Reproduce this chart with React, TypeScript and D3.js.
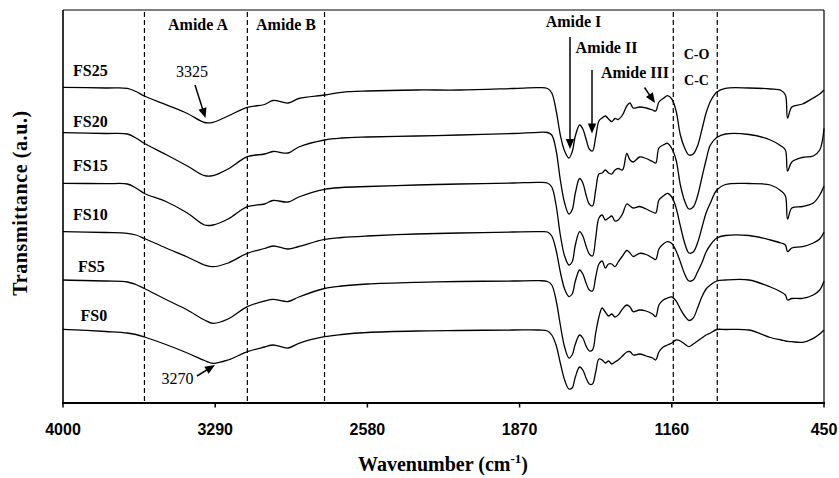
import React from "react";
import * as d3 from "d3";

// Wavenumber grid (cm^-1) shared by all spectra
const WAVENUMBERS = [4000, 3800, 3700, 3660, 3620, 3520, 3420, 3340, 3300, 3230,
  3140, 3060, 3020, 2950, 2900, 2780, 2700, 2580, 2350, 2150,
  1900, 1780, 1740, 1720, 1700, 1680, 1660, 1640, 1625, 1610,
  1590, 1575, 1560, 1545, 1530, 1515, 1500, 1485, 1470, 1455,
  1440, 1425, 1410, 1390, 1370, 1355, 1340, 1310, 1280, 1250,
  1235, 1220, 1200, 1180, 1160, 1140, 1120, 1100, 1080, 1060,
  1040, 1020, 1000, 980, 950, 910, 800, 700, 650, 630,
  620, 600, 550, 500, 470, 450];

// Stacked transmittance (a.u., offset) for each sample
const FS25 = [315.7, 315, 314.7, 311.5, 307, 298.3, 289.5, 280.5, 280.7, 287,
  295.7, 298.5, 302.5, 300, 304.5, 308, 310.7, 312, 313, 313,
  314.5, 315.3, 314.5, 310, 293, 268, 252, 245, 251, 267,
  278, 274, 264, 254, 252, 266, 282, 285, 287, 284,
  281.3, 284.5, 283.5, 288, 297, 300, 295, 296, 295, 293,
  292, 301, 304.5, 307.3, 304, 292, 268, 255, 248, 249,
  257, 273, 290, 301.5, 311, 314.7, 315, 314, 312.5, 308,
  285, 296, 299, 305, 309, 313];
const FS20 = [270.3, 269.5, 269, 265, 259.5, 248.5, 237, 227.3, 227.3, 234,
  246.3, 249, 251.5, 250, 256, 263, 265, 266, 267, 268,
  269.5, 270.7, 270.5, 268, 253, 223, 200, 189, 193, 210,
  224.5, 220, 208, 199, 197, 213, 229, 230, 233, 230,
  229, 233, 234.5, 233, 249.5, 243, 241, 246, 244.5, 241.5,
  240, 255, 258, 259.7, 254.5, 243, 218, 202, 194, 196,
  207, 225, 243, 258, 265.5, 269, 268.5, 263, 257, 253,
  232, 241, 245.5, 247, 253, 274.5];
const FS15 = [219.7, 219.3, 219, 215, 209.5, 201.5, 190, 178, 178, 184,
  196.3, 199, 202.5, 201, 206, 213.7, 215.5, 216.5, 218, 219,
  220, 220.7, 220, 216, 198, 168, 147, 138, 141, 158,
  171.3, 167, 157, 149, 147, 165, 185, 188, 183, 185,
  187, 182, 183, 189, 199, 197, 195, 196.5, 194, 191,
  190, 203, 207, 209.7, 206, 195, 177, 160, 150, 151,
  160, 175, 190, 200, 213, 218.5, 219.5, 218, 212, 207,
  184, 195, 196.5, 200, 208, 217];
const FS10 = [171.3, 170.5, 169.7, 168, 164.5, 155, 146, 138, 136.3, 140,
  149.7, 154.5, 157, 154, 156.5, 163.7, 165.5, 167, 169, 170,
  171, 171.3, 171, 167, 153, 131, 114, 106.5, 109, 122,
  133, 129, 120, 113, 112, 126, 139, 142, 135, 139,
  139, 136.3, 141, 147, 152.5, 150, 146.5, 149.7, 148.5, 145,
  143.5, 154, 159, 161.3, 159.5, 152, 141, 129, 122, 123,
  131, 140, 151, 158, 165, 167.5, 167.5, 163, 160, 158,
  151.3, 155, 156.3, 160, 164, 171];
const FS5 = [123, 122, 121, 118.5, 114.5, 103.5, 93, 83, 79.7, 84,
  96.3, 102, 103.7, 101.5, 106, 114.5, 117, 119, 120.7, 121.5,
  122, 122.3, 121.5, 118, 103, 78, 56, 45, 48, 59,
  68, 65, 57, 52, 53, 70, 86, 95, 91, 87,
  89, 86, 88, 94, 98, 96, 91.3, 93, 92, 89,
  86.3, 98, 103, 105, 106, 102, 94, 87, 82.5, 85,
  95, 106, 114, 118, 122, 123, 123, 116, 111, 108,
  103, 104.5, 104.7, 108, 113, 122];
const FS0 = [73.7, 71.5, 70, 68.5, 66, 58.5, 50, 42.5, 39.7, 43,
  51.3, 56, 58, 55, 59.7, 66.3, 68.5, 70.5, 72, 72.5,
  73, 73, 72, 68, 58, 40, 23, 14, 15, 26,
  36, 33, 25, 19, 19, 31, 44, 43, 40, 42,
  39, 41, 43, 47, 51, 51.3, 48, 49, 47, 45,
  43, 51, 56, 58, 60, 63, 62, 59, 56.3, 59,
  62, 65, 68, 70, 73.5, 73.5, 73, 65.5, 63, 62,
  61.7, 61.3, 60.7, 64.7, 69, 73];

const SERIES_NAMES = ["FS25", "FS20", "FS15", "FS10", "FS5", "FS0"];
const SERIES_VALUES = [FS25, FS20, FS15, FS10, FS5, FS0];

const X_TICKS = [4000, 3290, 2580, 1870, 1160, 450];
const DASHED_WN = [3620, 3140, 2780, 1153, 948];

const W = 839, H = 478;
const PL = 63, PR = 824, PT = 10, PB = 403;

const SERIF = "'Liberation Serif', 'Times New Roman', serif";
const SANS = "'Liberation Sans', Arial, sans-serif";

// label layout (pixels)
const SERIES_LABEL_POS = [[73, 76], [73, 126.7], [73, 170.7], [73, 220], [78, 271.7], [80.5, 320.7]];

function Arrow({ x1, y1, x2, y2, head = 10, half = 4.2 }) {
  const dx = x2 - x1, dy = y2 - y1;
  const len = Math.hypot(dx, dy);
  const ux = dx / len, uy = dy / len;
  const bx = x2 - ux * head, by = y2 - uy * head;
  const px = -uy, py = ux;
  const pts = `${x2},${y2} ${bx + px * half},${by + py * half} ${bx - px * half},${by - py * half}`;
  return (
    <g>
      <line x1={x1} y1={y1} x2={bx + ux * 2} y2={by + uy * 2} stroke="#000" strokeWidth={1.5} />
      <polygon points={pts} fill="#000" />
    </g>
  );
}

export default function App() {
  const x = d3.scaleLinear().domain([4000, 450]).range([PL, PR]);
  const y = d3.scaleLinear().domain([0, 393]).range([PB, PT]);
  const line = d3
    .line<number>()
    .x((_, i) => x(WAVENUMBERS[i]))
    .y((d) => y(d))
    .curve(d3.curveCatmullRom.alpha(0.5));

  return (
    <svg width={W} height={H} style={{ position: "absolute", left: 0, top: 0, background: "#fff" }}>
      <rect x={0} y={0} width={W} height={H} fill="#fff" />
      {/* dashed region markers */}
      {DASHED_WN.map((wn, i) => (
        <line key={i} x1={x(wn)} x2={x(wn)} y1={PT + 2} y2={PB} stroke="#000" strokeWidth={1.2} strokeDasharray="5,3" />
      ))}
      {/* spectra */}
      {SERIES_VALUES.map((vals, i) => (
        <path key={i} d={line(vals) || ""} fill="none" stroke="#000" strokeWidth={1.3} strokeLinejoin="round" />
      ))}
      {/* frame */}
      <line x1={PL} x2={PR} y1={PT} y2={PT} stroke="#000" strokeWidth={1.2} />
      <line x1={PR} x2={PR} y1={PT} y2={PB} stroke="#000" strokeWidth={1.2} />
      <line x1={PL} x2={PL} y1={PT} y2={PB} stroke="#000" strokeWidth={1.6} />
      <line x1={PL - 1} x2={PR + 1} y1={PB} y2={PB} stroke="#000" strokeWidth={2.2} />
      {/* x ticks */}
      {X_TICKS.map((t) => (
        <g key={t}>
          <line x1={x(t)} x2={x(t)} y1={PB} y2={PB + 4.5} stroke="#000" strokeWidth={1.5} />
          <text x={x(t)} y={435} textAnchor="middle" fontFamily={SANS} fontWeight="bold" fontSize={16}>
            {t}
          </text>
        </g>
      ))}
      {/* axis titles */}
      <text x={443} y={471} textAnchor="middle" fontFamily={SERIF} fontWeight="bold" fontSize={20}>
        Wavenumber (cm
        <tspan dy={-8} fontSize={13}>-1</tspan>
        <tspan dy={8}>)</tspan>
      </text>
      <text
        transform="translate(27,203) rotate(-90)"
        textAnchor="middle"
        fontFamily={SERIF}
        fontWeight="bold"
        fontSize={20}
        letterSpacing={0.6}
      >
        Transmittance (a.u.)
      </text>
      {/* series labels */}
      {SERIES_NAMES.map((n, i) => (
        <text key={n} x={SERIES_LABEL_POS[i][0]} y={SERIES_LABEL_POS[i][1]} fontFamily={SERIF} fontWeight="bold" fontSize={16}>
          {n}
        </text>
      ))}
      {/* band labels */}
      <g fontFamily={SERIF} fontWeight="bold" fontSize={16} textAnchor="middle">
        <text x={198} y={30}>Amide A</text>
        <text x={286} y={30}>Amide B</text>
        <text x={573.5} y={26.5}>Amide I</text>
        <text x={606.5} y={53}>Amide II</text>
        <text x={635} y={78}>Amide III</text>
      </g>
      <g fontFamily={SERIF} fontWeight="bold" fontSize={14} textAnchor="middle">
        <text x={696.5} y={58.5}>C-O</text>
        <text x={696.5} y={85}>C-C</text>
      </g>
      <g fontFamily={SERIF} fontSize={16} textAnchor="middle">
        <text x={192} y={77}>3325</text>
        <text x={177.5} y={384}>3270</text>
      </g>
      {/* arrows */}
      <Arrow x1={195} y1={85} x2={205.5} y2={118} />
      <Arrow x1={197} y1={376} x2={215} y2={365} />
      <Arrow x1={570} y1={37} x2={570} y2={149} />
      <Arrow x1={592} y1={70} x2={592} y2={133.5} />
      <Arrow x1={644.5} y1={87.5} x2={655} y2={103} />
    </svg>
  );
}
